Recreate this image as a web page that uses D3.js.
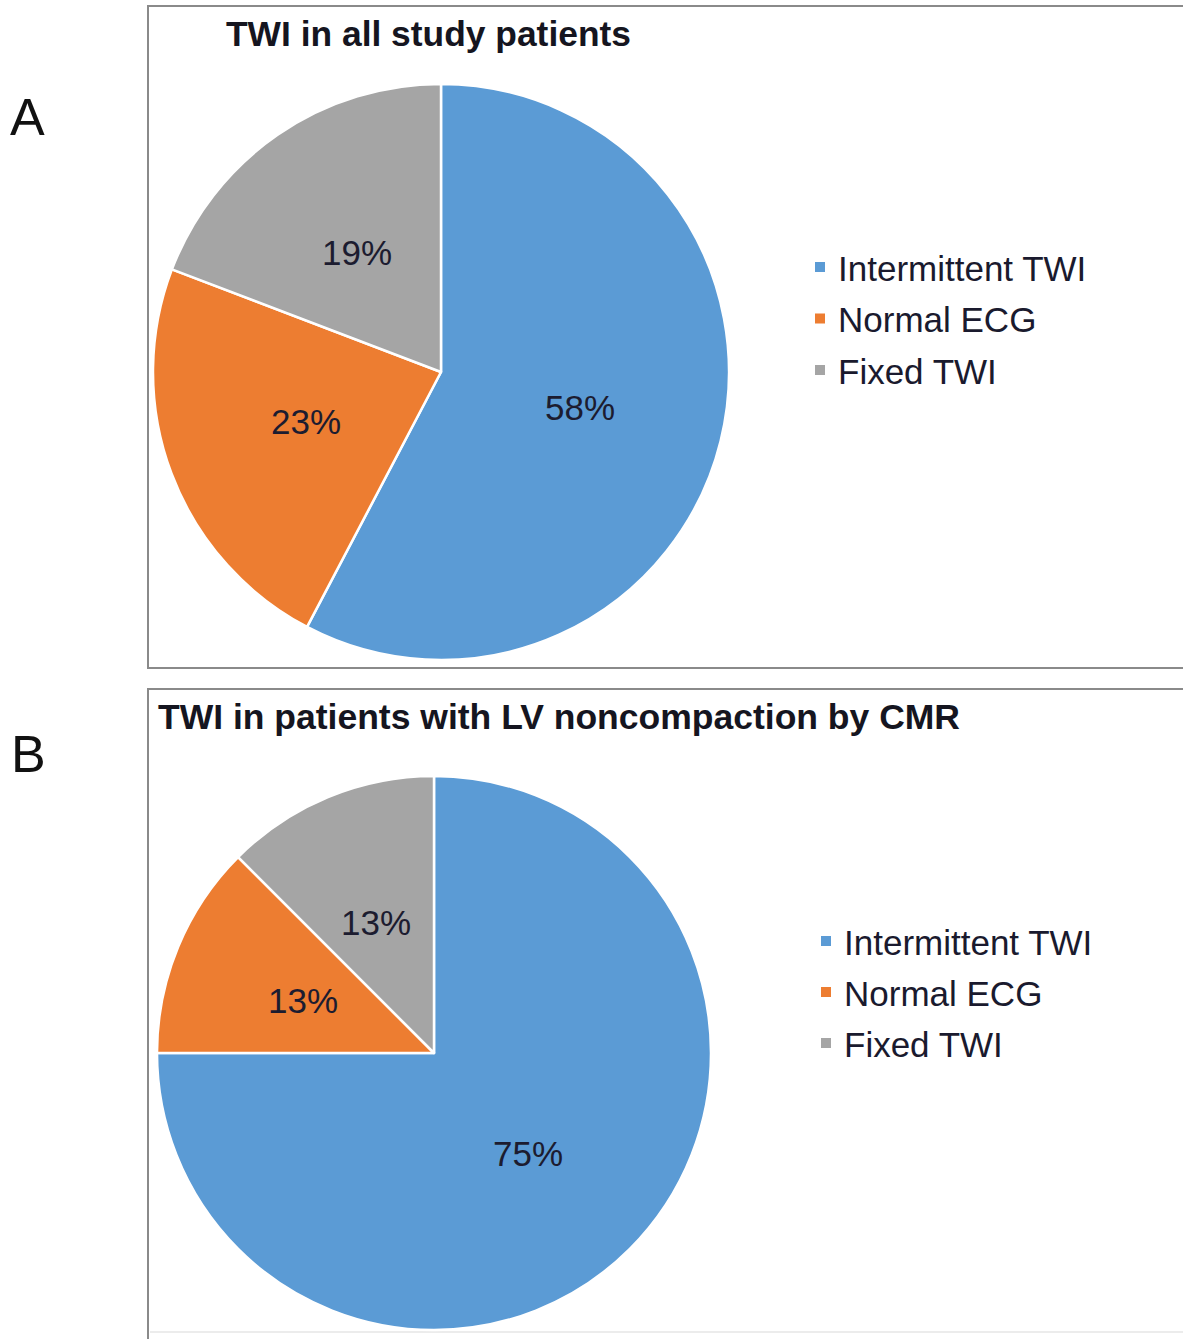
<!DOCTYPE html>
<html><head><meta charset="utf-8">
<script src="https://cdn.jsdelivr.net/npm/d3@7"></script>
<style>body{margin:0;background:#fff}svg{display:block}</style>
</head><body>
<script>
const categories = ["Intermittent TWI", "Normal ECG", "Fixed TWI"];
const valuesA = [57.7, 23.1, 19.2];
const valuesB = [75, 12.5, 12.5];
const titles = ["TWI in all study patients", "TWI in patients with LV noncompaction by CMR"];
const panelLetters = ["A", "B"];
const colors = ["#5B9BD5", "#ED7D31", "#A5A5A5"];

const W = 1183, H = 1339;
const svg = d3.select("body").append("svg").attr("width", W).attr("height", H);

const panels = [
  {values: valuesA, box: [148, 6, 1100, 662], cx: 441, cy: 372, r: 288,
   title: {x: 226, y: 46, w: 405}, letter: {x: 10, y: 135},
   labels: [[580, 407], [306, 421], [357, 252]],
   legend: {x: 820, y: 267, dy: 51.5}, bottomLine: null},
  {values: valuesB, box: [148, 689, 1100, 700], cx: 434, cy: 1053, r: 277,
   title: {x: 158, y: 729, w: 802}, letter: {x: 11, y: 772},
   labels: [[528, 1153], [303, 1000], [376, 922]],
   legend: {x: 826, y: 941, dy: 51}, bottomLine: 1332}
];

panels.forEach((p, i) => {
  const g = svg.append("g");
  g.append("rect").attr("x", p.box[0]).attr("y", p.box[1]).attr("width", p.box[2]).attr("height", p.box[3])
    .attr("fill", "#fff").attr("stroke", "#8a8a8a").attr("stroke-width", 2);
  if (p.bottomLine) {
    g.append("line").attr("x1", p.box[0] + 2).attr("x2", W).attr("y1", p.bottomLine).attr("y2", p.bottomLine)
      .attr("stroke", "#ececec").attr("stroke-width", 2);
  }
  g.append("text").attr("x", p.letter.x).attr("y", p.letter.y).text(panelLetters[i])
    .attr("font-family", "Liberation Sans, Arial, sans-serif").attr("font-size", 52).attr("fill", "#111");
  g.append("text").attr("x", p.title.x).attr("y", p.title.y).text(titles[i])
    .attr("font-family", "Liberation Sans Narrow, Arial Narrow, Liberation Sans, sans-serif")
    .attr("font-weight", "bold").attr("font-size", 35).attr("fill", "#151520")
    .attr("textLength", p.title.w).attr("lengthAdjust", "spacingAndGlyphs");

  const pie = d3.pie().sort(null).value(d => d)(p.values);
  const arc = d3.arc().innerRadius(0).outerRadius(p.r);
  const pg = g.append("g").attr("transform", `translate(${p.cx},${p.cy})`);
  pg.selectAll("path").data(pie).join("path")
    .attr("d", arc).attr("fill", (d, j) => colors[j])
    .attr("stroke", "#fff").attr("stroke-width", 2.5).attr("stroke-linejoin", "round");

  g.selectAll("text.lbl").data(pie).join("text").attr("class", "lbl")
    .attr("x", (d, j) => p.labels[j][0]).attr("y", (d, j) => p.labels[j][1])
    .attr("text-anchor", "middle").attr("dominant-baseline", "central")
    .attr("font-family", "Liberation Sans, Arial, sans-serif").attr("font-size", 35).attr("fill", "#1c1c30")
    .text(d => Math.round(d.data) + "%");

  const lg = g.append("g");
  categories.forEach((c, j) => {
    const y = p.legend.y + j * p.legend.dy;
    lg.append("rect").attr("x", p.legend.x - 5).attr("y", y - 5).attr("width", 10).attr("height", 10).attr("fill", colors[j]);
    lg.append("text").attr("x", p.legend.x + 18).attr("y", y + 1).attr("dominant-baseline", "central")
      .attr("font-family", "Liberation Sans, Arial, sans-serif").attr("font-size", 35).attr("fill", "#1a1a2e")
      .text(c);
  });
});
</script>
</body></html>
